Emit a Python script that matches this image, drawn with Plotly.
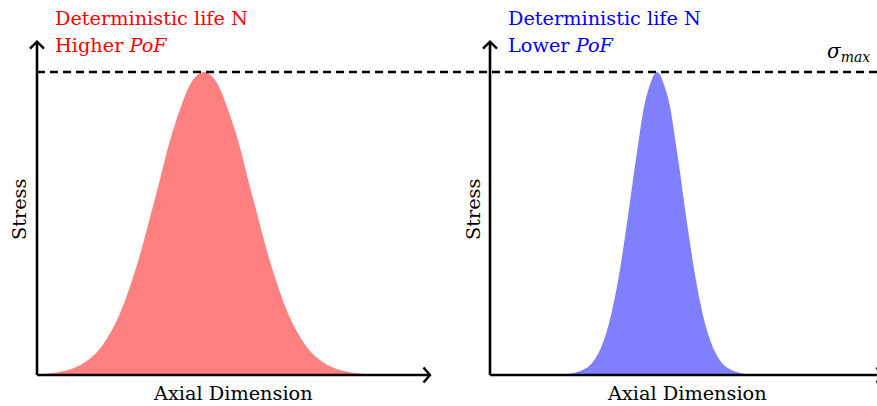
import plotly.graph_objects as go

# ---- data ----
x_left = [0.0, 0.5, 1.0, 1.5, 2.0, 2.5, 3.0, 3.5, 4.0, 4.25, 4.5, 5.0, 5.5, 6.0, 6.5, 7.0, 7.5, 8.0, 8.5]
stress_left = [0.002, 0.008, 0.026, 0.072, 0.172, 0.345, 0.581, 0.823, 0.979, 1.0,
               0.979, 0.823, 0.581, 0.345, 0.172, 0.072, 0.026, 0.008, 0.002]

x_right = [0.0, 1.5, 2.0, 2.5, 2.75, 3.0, 3.25, 3.5, 3.75, 4.0, 4.25, 4.5, 4.75, 5.0, 5.25, 5.5, 5.75, 6.0, 6.5, 7.0, 8.5]
stress_right = [0.0, 0.0001, 0.0025, 0.027, 0.070, 0.157, 0.306, 0.514, 0.744, 0.929, 1.0,
                0.929, 0.744, 0.514, 0.306, 0.157, 0.070, 0.027, 0.0025, 0.0001, 0.0]

sigma_max = 1.0
x_axis_len = 10.0
y_axis_len = 1.1

RED = "#ff8080"
BLUE = "#8080ff"
RED_TXT = "#ff0000"
BLUE_TXT = "#0000ff"
W, H = 877, 406
FONT = "'DejaVu Serif', serif"

def px(xp):
    return xp / W

def py(yp):
    return 1 - yp / H

fig = go.Figure()
fig.add_trace(go.Scatter(x=x_left, y=stress_left, mode="lines", line=dict(width=0, shape="spline"),
                         fill="tozeroy", fillcolor=RED, xaxis="x", yaxis="y", hoverinfo="skip"))
fig.add_trace(go.Scatter(x=x_right, y=stress_right, mode="lines", line=dict(width=0, shape="spline"),
                         fill="tozeroy", fillcolor=BLUE, xaxis="x2", yaxis="y", hoverinfo="skip"))

# axis mapping: 39.3 px per x unit, 303 px per y unit
sx, sy = 39.3, 303.0
y0px = 375
yrange = [-(H - y0px) / sy, y0px / sy]
split = 440
fig.update_layout(
    width=W, height=H, margin=dict(l=0, r=0, t=0, b=0),
    paper_bgcolor="white", plot_bgcolor="white", showlegend=False,
    xaxis=dict(domain=[0, split / W], range=[-37 / sx, (split - 37) / sx], visible=False),
    xaxis2=dict(domain=[split / W, 1], range=[-(490 - split) / sx, (W - 490) / sx], visible=False),
    yaxis=dict(domain=[0, 1], range=yrange, visible=False),
)

shapes = []
lw = 2.6
for xa in ["x", "x2"]:
    shapes.append(dict(type="line", xref=xa, yref="y", x0=0, y0=0, x1=x_axis_len, y1=0,
                       line=dict(color="black", width=lw)))
    shapes.append(dict(type="line", xref=xa, yref="y", x0=0, y0=0, x1=0, y1=y_axis_len,
                       line=dict(color="black", width=lw)))
    ax_, ay_ = 6.5 / sx, 7.5 / sy
    shapes.append(dict(type="path", xref=xa, yref="y",
                       path=f"M {x_axis_len-ax_} {ay_} L {x_axis_len} 0 L {x_axis_len-ax_} {-ay_}",
                       line=dict(color="black", width=2.4)))
    bx, by = 7 / sx, 7 / sy
    shapes.append(dict(type="path", xref=xa, yref="y",
                       path=f"M {-bx} {y_axis_len-by} L 0 {y_axis_len} L {bx} {y_axis_len-by}",
                       line=dict(color="black", width=2.4)))
shapes.append(dict(type="line", xref="paper", yref="y", x0=px(37), x1=1, y0=sigma_max, y1=sigma_max,
                   line=dict(color="black", width=2.6, dash="8px,5px")))
fig.update_layout(shapes=shapes)

fs = 19.3
ann = []
def text(t, xp, yp, color="black", xanchor="left", angle=0, size=fs):
    ann.append(dict(text=t, x=px(xp), y=py(yp), xref="paper", yref="paper", showarrow=False,
                    xanchor=xanchor, yanchor="middle", textangle=angle,
                    font=dict(family=FONT, size=size, color=color)))

text("Deterministic life N", 53, 18, RED_TXT)
text("Higher <i>PoF</i>", 53, 46, RED_TXT)
text("Deterministic life N", 506, 18, BLUE_TXT)
text("Lower <i>PoF</i>", 506, 46, BLUE_TXT)
text("<i>σ<sub>max</sub></i>", 872, 52, "black", xanchor="right", size=20)
text("Stress", 19, 210, angle=-90, xanchor="center")
text("Stress", 473, 210, angle=-90, xanchor="center")
text("Axial Dimension", 233, 393, xanchor="center")
text("Axial Dimension", 687, 393, xanchor="center")
fig.update_layout(annotations=ann)

fig.write_html("out.html")
